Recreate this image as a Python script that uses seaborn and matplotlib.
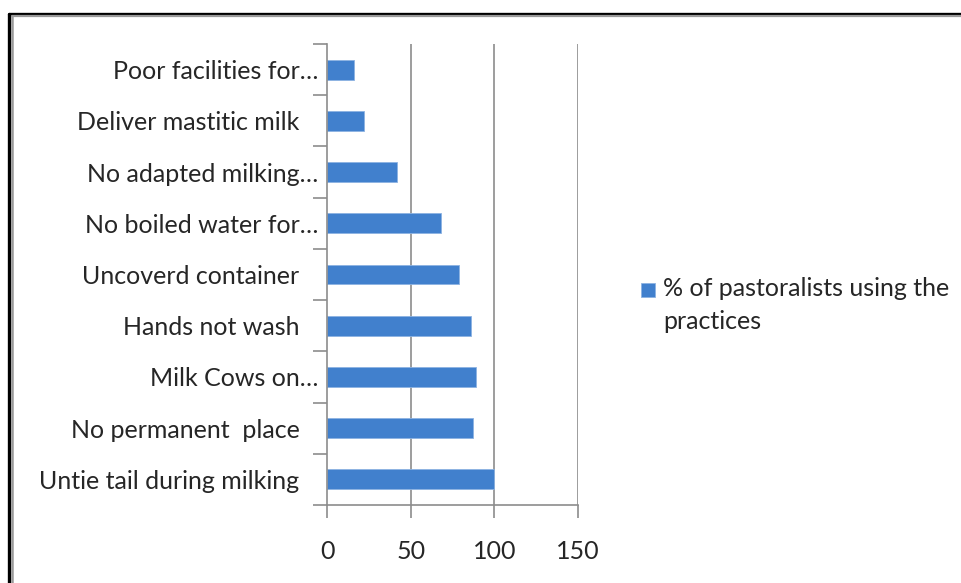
import numpy as np
import pandas as pd
import seaborn as sns
import matplotlib.pyplot as plt
from matplotlib.lines import Line2D
from matplotlib.patches import Rectangle

# data (top to bottom)
practices = ['Poor facilities for\u2026', 'Deliver mastitic milk   ', 'No adapted milking\u2026',
             'No boiled water for\u2026', 'Uncoverd container   ', 'Hands not wash   ',
             'Milk Cows on\u2026', 'No permanent  place   ', 'Untie tail during milking   ']
pct_users = [16, 22, 42, 68, 79, 86, 89, 87, 100]
xticks = [0, 50, 100, 150]
series_name = ['% of pastoralists using the', 'practices']

df = pd.DataFrame({'practice': practices, 'pct': pct_users})

sns.set_style('white')
plt.rcParams['font.family'] = ['Lato', 'DejaVu Sans']

fig = plt.figure(figsize=(9.61, 5.83), dpi=100)
ax = fig.add_axes([0.3403, 0.1338, 0.2612, 0.7907])

sns.barplot(data=df, x='pct', y='practice', orient='h', color='#4180CD',
            width=0.39, edgecolor='#8DB3E2', linewidth=0.6, saturation=1, ax=ax)

ax.set_xlim(0, 150)
ax.set_ylim(8.5, -0.5)
ax.set_xticks(xticks)
ax.set_xlabel('')
ax.set_ylabel('')

# vertical gridlines like the excel chart
for v in xticks[1:]:
    ax.axvline(v, color='#8C8C8C', lw=1.2, zorder=0)

for s in ['top', 'right']:
    ax.spines[s].set_visible(False)
for s in ['left', 'bottom']:
    ax.spines[s].set_color('#8C8C8C')
    ax.spines[s].set_linewidth(1.2)

# ticks between categories on y, labels without ticks
ax.set_yticks(np.arange(-0.5, 9, 1), minor=True)
ax.tick_params(axis='y', which='minor', length=10, width=1.2, color='#8C8C8C', left=True)
ax.tick_params(axis='y', which='major', length=0, pad=6, labelsize=18, labelcolor='#262626')
ax.tick_params(axis='x', which='major', length=9, width=1.2, color='#8C8C8C', bottom=True,
               pad=16, labelsize=18, labelcolor='#262626')

# legend drawn by hand so the key sits on the first line
fig.add_artist(Rectangle((641 / 961, 1 - 297 / 583), 14 / 961, 14 / 583,
                         facecolor='#4180CD', edgecolor='#8DB3E2', lw=0.6,
                         transform=fig.transFigure))
for i, line in enumerate(series_name):
    fig.text(663 / 961, 1 - (289 + 32 * i) / 583, line, fontsize=18, color='#262626',
             va='center', ha='left')

# page frame
fig.add_artist(Line2D([0.0094, 1.0], [0.9765, 0.9765], color='black', lw=2.4, transform=fig.transFigure))
fig.add_artist(Line2D([0.0094, 0.0094], [0.0, 0.9765], color='black', lw=2.4, transform=fig.transFigure))
fig.add_artist(Line2D([0.0125, 1.0], [0.9725, 0.9725], color='#999999', lw=1.6, transform=fig.transFigure))
fig.add_artist(Line2D([0.0125, 0.0125], [0.0, 0.9725], color='#999999', lw=1.8, transform=fig.transFigure))

fig.savefig('out.png', dpi=100)
